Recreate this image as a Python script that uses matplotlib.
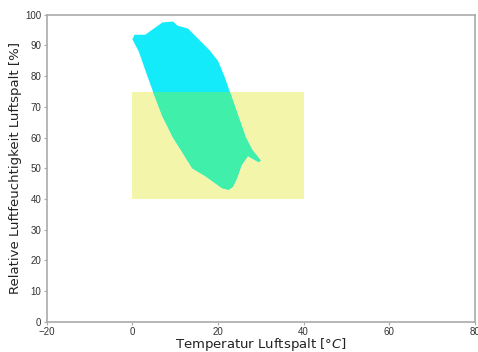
import matplotlib
matplotlib.use("Agg")
import matplotlib.pyplot as plt
from matplotlib.patches import Rectangle, Polygon

# Outline of the measured point cloud (temperature °C, rel. humidity %)
cloud_t = [0.0, 0.5, 3.0, 5.0, 7.0, 9.5, 10.5, 13.0, 15.5, 18.0, 20.0, 21.5, 22.5,
           23.5, 25.0, 26.5, 28.0, 30.0, 29.5, 27.0, 25.5, 24.5, 23.5, 22.5, 21.0,
           19.5, 17.0, 14.0, 12.0, 9.5, 7.0, 4.8, 3.0, 1.5]
cloud_rh = [92.0, 93.5, 93.5, 95.5, 97.5, 97.8, 96.5, 95.5, 92.0, 88.5, 85.0, 80.0, 76.0,
            72.0, 66.0, 60.0, 56.0, 52.5, 52.0, 54.0, 51.0, 47.0, 44.0, 43.0, 43.5,
            45.0, 47.5, 50.0, 54.5, 60.0, 67.0, 75.0, 82.0, 88.0]

# Comfort range rectangle
rect_t = [0, 40]
rect_rh = [40, 75]

xticks = [-20, 0, 20, 40, 60, 80]
yticks = [0, 10, 20, 30, 40, 50, 60, 70, 80, 90, 100]

fig = plt.figure(figsize=(4.78, 3.52), dpi=100)
ax = fig.add_axes([0.098, 0.086, 0.895, 0.872])

rect = Rectangle((rect_t[0], rect_rh[0]), rect_t[1] - rect_t[0], rect_rh[1] - rect_rh[0],
                 facecolor=(242/255, 245/255, 170/255), edgecolor='none', zorder=1)
ax.add_patch(rect)

pts = list(zip(cloud_t, cloud_rh))
poly = Polygon(pts, closed=True, facecolor=(20/255, 235/255, 250/255), edgecolor='none', zorder=2)
ax.add_patch(poly)
poly2 = Polygon(pts, closed=True, facecolor=(64/255, 240/255, 170/255), edgecolor='none', zorder=3)
ax.add_patch(poly2)
clip = Rectangle((rect_t[0], rect_rh[0]), rect_t[1] - rect_t[0], rect_rh[1] - rect_rh[0],
                 transform=ax.transData)
poly2.set_clip_path(clip)

ax.set_xlim(-20, 80)
ax.set_ylim(0, 100)
ax.set_xticks(xticks)
ax.set_yticks(yticks)
for lab in ax.get_xticklabels() + ax.get_yticklabels():
    lab.set_fontfamily('Liberation Sans')
    lab.set_fontsize(7)
    lab.set_color('#333333')
ax.tick_params(length=2.5, width=0.8, color='#aaaaaa', pad=1.5)
for s in ax.spines.values():
    s.set_color('#aaaaaa')
    s.set_linewidth(1.2)

ax.set_xlabel('Temperatur Luftspalt [$°C$]', fontsize=9.5, color='#222222', labelpad=-1)
ax.set_ylabel('Relative Luftfeuchtigkeit Luftspalt [%]', fontsize=9.5, color='#222222', labelpad=2)

fig.savefig('out.png', dpi=100)
